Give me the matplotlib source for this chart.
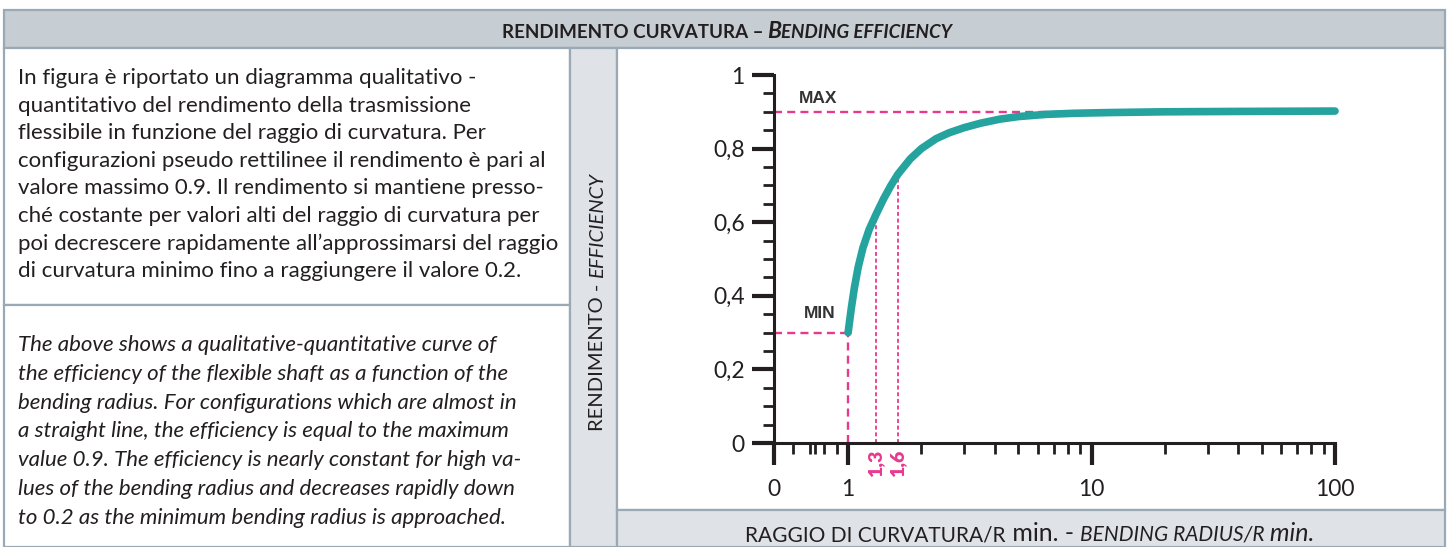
import numpy as np
import matplotlib.pyplot as plt
from matplotlib.patches import Rectangle
from matplotlib.ticker import FixedLocator, NullFormatter

# efficiency curve (bending radius / R min -> efficiency)
radius = [1.00, 1.03, 1.06, 1.10, 1.15, 1.22, 1.30, 1.40, 1.50, 1.60, 1.80,
          2.0, 2.3, 2.6, 3.0, 3.5, 4.2, 5.0, 6.5, 8.5, 12, 20, 40, 100]
efficiency = [0.30, 0.365, 0.42, 0.478, 0.53, 0.58, 0.62, 0.664, 0.70, 0.73,
              0.772, 0.80, 0.827, 0.843, 0.857, 0.869, 0.88, 0.887, 0.893,
              0.896, 0.898, 0.90, 0.901, 0.902]

eff_max = 0.9
eff_min = 0.3
r_min = 1.0
marked_radii = [1.3, 1.6]
marked_labels = ["1,3", "1,6"]

x_ticks = [0, 1, 10, 100]
x_ticklabels = ["0", "1", "10", "100"]
x_minor_lin = [0.26, 0.49, 0.55, 0.68, 0.85]   # odd little ticks between 0 and 1
y_ticks = [0, 0.2, 0.4, 0.6, 0.8, 1.0]
y_ticklabels = ["0", "0,2", "0,4", "0,6", "0,8", "1"]

text_it = [
    "In figura è riportato un diagramma qualitativo -",
    "quantitativo del rendimento della trasmissione",
    "flessibile in funzione del raggio di curvatura. Per",
    "configurazioni pseudo rettilinee il rendimento è pari al",
    "valore massimo 0.9. Il rendimento si mantiene presso-",
    "ché costante per valori alti del raggio di curvatura per",
    "poi decrescere rapidamente all’approssimarsi del raggio",
    "di curvatura minimo fino a raggiungere il valore 0.2.",
]
text_en = [
    "The above shows a qualitative-quantitative curve of",
    "the efficiency of the flexible shaft as a function of the",
    "bending radius. For configurations which are almost in",
    "a straight line, the efficiency is equal to the maximum",
    "value 0.9. The efficiency is nearly constant for high va-",
    "lues of the bending radius and decreases rapidly down",
    "to 0.2 as the minimum bending radius is approached.",
]

TEAL = "#25a39e"
PINK = "#e8388f"
INK = "#231f20"
HEAD = "#c6cdd3"
BAND = "#dfe3e7"
EDGE = "#9aa9b3"
FONT = "Lato"

W, H = 1452, 547
fig = plt.figure(figsize=(W / 100, H / 100), dpi=100)
renderer = fig.canvas.get_renderer()


def fx(px):
    return px / W


def fy(py):
    return 1 - py / H


def box(x0, y0, x1, y1, fc, lw=1.6):
    fig.patches.append(Rectangle((fx(x0), fy(y1)), fx(x1) - fx(x0), fy(y0) - fy(y1),
                                 transform=fig.transFigure, facecolor=fc,
                                 edgecolor=EDGE, linewidth=lw, zorder=-5))


def runs(parts, x, y, rotation=0, center=True):
    # draw text pieces one after another (fake small caps / mixed styles)
    widths = []
    for s, kw in parts:
        t = fig.text(0, 0, s, family=FONT, **kw)
        widths.append(t.get_window_extent(renderer).width)
        t.remove()
    total = sum(widths)
    pos = -total / 2 if center else 0
    for (s, kw), w in zip(parts, widths):
        if rotation == 90:
            px, py = x, y - pos
        else:
            px, py = x + pos, y
        fig.text(fx(px), fy(py), s, family=FONT, color=INK, rotation=rotation,
                 rotation_mode="anchor", ha="left", va="baseline", **kw)
        pos += w


# table frame
box(4, 10, 1445, 48, HEAD)
box(4, 48, 570, 305, "white")
box(4, 305, 570, 547, "white")
box(570, 48, 617, 547, BAND)
box(617, 48, 1445, 510, "white")
box(617, 510, 1445, 547, BAND)

runs([("RENDIMENTO CURVATURA – ", dict(fontsize=13.5, weight="bold")),
      ("B", dict(fontsize=16.5, weight="bold", style="italic")),
      ("ENDING EFFICIENCY", dict(fontsize=13.5, weight="bold", style="italic"))],
     727, 38)

runs([("RENDIMENTO - ", dict(fontsize=14.5)),
      ("EFFICIENCY", dict(fontsize=14.5, style="italic"))],
     603, 302, rotation=90)

runs([("RAGGIO DI CURVATURA/R", dict(fontsize=15)),
      (" min. - ", dict(fontsize=18)),
      ("BENDING RADIUS/R", dict(fontsize=15, style="italic")),
      (" min.", dict(fontsize=18, style="italic"))],
     1030, 541)

for i, line in enumerate(text_it):
    fig.text(fx(18), fy(84 + 27.6 * i), line, family=FONT, fontsize=16,
             color=INK, va="baseline")
for i, line in enumerate(text_en):
    fig.text(fx(18), fy(351 + 28.8 * i), line, family=FONT, fontsize=16,
             color=INK, style="italic", va="baseline")

# chart
ax = fig.add_axes([fx(774), fy(443), fx(1335) - fx(774), fy(75) - fy(443)])
ax.set_zorder(2)
ax.set_xscale("symlog", linthresh=1, linscale=0.274)
ax.set_xlim(0, 100)
ax.set_ylim(0, 1)
ax.patch.set_alpha(0)

for s in ["top", "right"]:
    ax.spines[s].set_visible(False)
for s in ["left", "bottom"]:
    ax.spines[s].set_linewidth(2.2)
    ax.spines[s].set_color(INK)

log_minor = [m * d for d in (1, 10) for m in range(2, 10)]
ax.xaxis.set_major_locator(FixedLocator(x_ticks))
ax.xaxis.set_minor_locator(FixedLocator(x_minor_lin + log_minor))
ax.set_xticklabels(x_ticklabels)
ax.xaxis.set_minor_formatter(NullFormatter())
ax.yaxis.set_major_locator(FixedLocator(y_ticks))
ax.yaxis.set_minor_locator(FixedLocator(np.arange(0.05, 1.0, 0.05)))
ax.set_yticklabels(y_ticklabels)

ax.tick_params(which="major", length=16, width=3, color=INK, direction="out")
ax.tick_params(which="minor", length=8, width=2, color=INK, direction="out")
ax.tick_params(axis="x", which="major", pad=10)
ax.tick_params(axis="y", which="major", pad=5)
for lab in ax.get_xticklabels() + ax.get_yticklabels():
    lab.set_family(FONT)
    lab.set_fontsize(16.5)
    lab.set_color(INK)

# reference lines
ax.plot([0, 100], [eff_max, eff_max], color=PINK, lw=1.7, dashes=(3.4, 2.2), zorder=1, clip_on=False)
ax.plot([0, r_min], [eff_min, eff_min], color=PINK, lw=1.7, dashes=(3.4, 2.2), zorder=1, clip_on=False)
ax.plot([r_min, r_min], [0, eff_min], color=PINK, lw=1.7, dashes=(3.4, 2.2), zorder=1, clip_on=False)
for r, lab in zip(marked_radii, marked_labels):
    top = np.interp(r, radius, efficiency)
    ax.plot([r, r], [0, top], color=PINK, lw=1.3, dashes=(2.2, 1.5), zorder=1)
    ax.annotate(lab, (r, 0), xytext=(0, -5), textcoords="offset points",
                rotation=90, ha="center", va="top", color=PINK,
                family=FONT, weight="heavy", fontsize=14)

ax.plot(radius, efficiency, color=TEAL, lw=5.5, solid_capstyle="round",
        zorder=3, clip_on=False)

ax.text(0.6, 0.937, "MAX", ha="center", va="center", color="#333333",
        family="Liberation Sans", weight="bold", fontsize=12.5)
ax.text(0.61, 0.353, "MIN", ha="center", va="center", color="#333333",
        family="Liberation Sans", weight="bold", fontsize=12.5)

fig.savefig("out.png", dpi=100)
